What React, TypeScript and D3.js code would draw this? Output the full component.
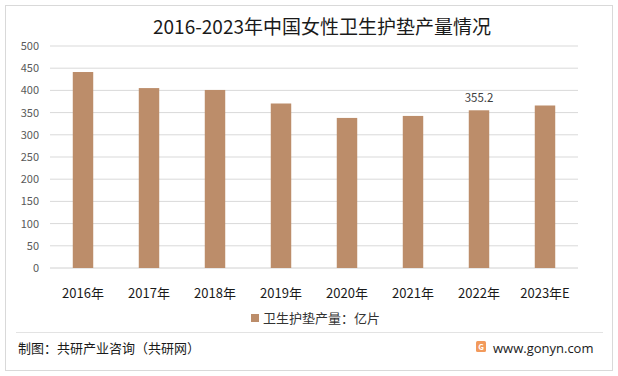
import React from "react";
import * as d3 from "d3";

const categories = ["2016年", "2017年", "2018年", "2019年", "2020年", "2021年", "2022年", "2023年E"];
const values = [441.4, 405.2, 401.0, 370.5, 338.0, 342.5, 355.2, 366.0];
const labelled = [false, false, false, false, false, false, true, false];
const yTicks = [0, 50, 100, 150, 200, 250, 300, 350, 400, 450, 500];
const title = "2016-2023年中国女性卫生护垫产量情况";
const seriesName = "卫生护垫产量：亿片";
const footerLeft = "制图：共研产业咨询（共研网）";
const footerRight = "www.gonyn.com";

const W = 618;
const H = 376;
const FONT = "'Noto Sans CJK SC', 'Noto Sans', sans-serif";
const BAR = "#BC8D6A";

export default function App() {
  const x = d3.scaleBand<string>().domain(categories).range([50, 578]).paddingInner(0.69).paddingOuter(0.345);
  const y = d3.scaleLinear().domain([0, 500]).range([268, 46]);
  return (
    <svg width={W} height={H} style={{ position: "absolute", left: 0, top: 0, background: "#fff" }} fontFamily={FONT}>
      <rect x={5.5} y={5.5} width={607} height={365} fill="#fff" stroke="#D9D9D9" />
      <text x={322} y={34} textAnchor="middle" fontSize={19} fill="#1a1a1a">{title}</text>
      {yTicks.map((t) => (
        <g key={t}>
          <line x1={50} x2={578} y1={y(t)} y2={y(t)} stroke={t === 0 ? "#D0D0D0" : "#D9D9D9"} strokeWidth={1} />
          <text x={39} y={y(t) + 4} textAnchor="end" fontSize={11} fill="#595959">{t}</text>
        </g>
      ))}
      {categories.map((c, i) => (
        <g key={c}>
          <rect x={x(c)!} y={y(values[i])} width={x.bandwidth()} height={y(0) - y(values[i])} fill={BAR} />
          <text x={x(c)! + x.bandwidth() / 2} y={298} textAnchor="middle" fontSize={13} fill="#1a1a1a">{c}</text>
          {labelled[i] && (
            <text x={x(c)! + x.bandwidth() / 2} y={y(values[i]) - 8} textAnchor="middle" fontSize={11.5} fill="#404040">{values[i].toFixed(1)}</text>
          )}
        </g>
      ))}
      <rect x={251} y={314} width={8} height={8} fill={BAR} />
      <text x={263} y={323} fontSize={13} fill="#333">{seriesName}</text>
      <line x1={16} x2={603} y1={332.5} y2={332.5} stroke="#E3E3E3" />
      <text x={18} y={353} fontSize={13} fill="#1a1a1a">{footerLeft}</text>
      <rect x={476} y={341} width={10} height={11} rx={1.5} fill="#F29A5C" />
      <text x={481} y={350} textAnchor="middle" fontSize={8} fontWeight="bold" fill="#fff">G</text>
      <text x={493} y={353} fontSize={13} fill="#1a1a1a" fontFamily="'Open Sans', 'DejaVu Sans', sans-serif">{footerRight}</text>
    </svg>
  );
}
